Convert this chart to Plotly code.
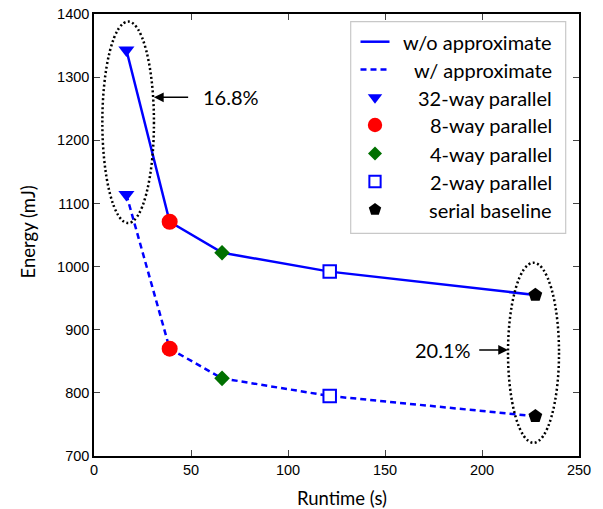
import plotly.graph_objects as go

# ---- data ----
configs = ["32-way parallel", "8-way parallel", "4-way parallel", "2-way parallel", "serial baseline"]
runtime = [16.7, 39.0, 66.0, 121.5, 227.5]
energy_wo = [1343, 1071, 1022, 992, 955]
energy_w = [1114, 870, 823, 795, 763]
series_names = ["w/o approximate", "w/ approximate"]

marker_symbols = ["triangle-down", "circle", "diamond", "square", "pentagon"]
marker_fill = ["#0000ff", "#ff0000", "#007000", "#ffffff", "#000000"]
marker_edge = ["#0000ff", "#ff0000", "#007000", "#0000ff", "#000000"]
marker_edge_w = [0, 0, 0, 2, 0]
marker_sizes = [14, 16, 12, 12.5, 14.5]

x_ticks = [0, 50, 100, 150, 200, 250]
y_ticks = [700, 800, 900, 1000, 1100, 1200, 1300, 1400]

# annotation values (ellipse extents, arrows)
ell_left = dict(x0=4.3, x1=30.9, y0=1069, y1=1388)
ell_right = dict(x0=213.4, x1=239.7, y0=721, y1=1006)
arrow_left = dict(tip=(30.9, 1268), tail=(49.3, 1268), text="16.8%", tx=55.4)
arrow_right = dict(tip=(213.4, 868), tail=(197.8, 868), text="20.1%", tx=195.4)

W, H = 603, 509
L, R, T, B = 94, 579, 14, 456

TEXT_FONT = "Lato"
TICK_FONT = "Liberation Sans"
BLUE = "#0000ff"

fig = go.Figure()

fig.add_trace(go.Scatter(x=runtime, y=energy_wo, mode="lines",
                         line=dict(color=BLUE, width=2.5), showlegend=False))
fig.add_trace(go.Scatter(x=runtime, y=energy_w, mode="lines",
                         line=dict(color=BLUE, width=2.5, dash="6px,4px"), showlegend=False))

for i, name in enumerate(configs):
    fig.add_trace(go.Scatter(
        x=[runtime[i], runtime[i]], y=[energy_wo[i], energy_w[i]], mode="markers",
        marker=dict(symbol=marker_symbols[i], size=marker_sizes[i], color=marker_fill[i],
                    line=dict(color=marker_edge[i], width=marker_edge_w[i])),
        showlegend=False, name=name))

# ---- custom legend on an overlay pixel-space axis ----
leg_rows = [41.7, 69.5, 97.5, 125, 153.5, 181.5, 209.5]
leg_sym_x = 375
leg_text_x = 554
fig.add_trace(go.Scatter(x=[360.5, 389.5], y=[leg_rows[0]] * 2, mode="lines", xaxis="x2", yaxis="y2",
                         line=dict(color=BLUE, width=2.5), showlegend=False))
fig.add_trace(go.Scatter(x=[360.5, 389.5], y=[leg_rows[1]] * 2, mode="lines", xaxis="x2", yaxis="y2",
                         line=dict(color=BLUE, width=2.5, dash="6px,4px"), showlegend=False))
for i, name in enumerate(configs):
    fig.add_trace(go.Scatter(
        x=[leg_sym_x], y=[leg_rows[i + 2]], mode="markers", xaxis="x2", yaxis="y2",
        marker=dict(symbol=marker_symbols[i], size=marker_sizes[i] * 0.9, color=marker_fill[i],
                    line=dict(color=marker_edge[i], width=marker_edge_w[i])),
        showlegend=False))

annotations = []
for label, yy in zip(series_names + configs, leg_rows):
    annotations.append(dict(x=leg_text_x, y=yy, xref="x2", yref="y2", text=label, showarrow=False,
                            xanchor="right", yanchor="middle",
                            font=dict(family=TEXT_FONT, size=20, color="black")))

for a, anchor in [(arrow_left, "left"), (arrow_right, "right")]:
    annotations.append(dict(x=a["tip"][0], y=a["tip"][1], ax=a["tail"][0], ay=a["tail"][1],
                            xref="x", yref="y", axref="x", ayref="y", text="", showarrow=True,
                            arrowhead=2, arrowsize=1.3, arrowwidth=1.5, arrowcolor="black"))
    annotations.append(dict(x=a["tx"], y=a["tip"][1], xref="x", yref="y", text=a["text"],
                            showarrow=False, xanchor=anchor, yanchor="middle",
                            font=dict(family=TEXT_FONT, size=20, color="black")))

annotations.append(dict(x=(342 - L) / (R - L), y=(B - 498) / (B - T), xref="paper", yref="paper",
                        text="Runtime (s)", showarrow=False, xanchor="center", yanchor="middle",
                        font=dict(family=TEXT_FONT, size=18.5, color="black")))
annotations.append(dict(x=(27 - L) / (R - L), y=(B - 232.5) / (B - T), xref="paper", yref="paper",
                        text="Energy (mJ)", textangle=-90, showarrow=False,
                        xanchor="center", yanchor="middle",
                        font=dict(family=TEXT_FONT, size=18.5, color="black")))

shapes = [
    dict(type="circle", xref="x", yref="y", line=dict(color="black", width=2.5, dash="2px,2.5px"), **ell_left),
    dict(type="circle", xref="x", yref="y", line=dict(color="black", width=2.5, dash="2px,2.5px"), **ell_right),
    dict(type="rect", xref="x2", yref="y2", x0=350.7, x1=565.7, y0=21.7, y1=233.3,
         line=dict(color="#c8c8c8", width=1.2), fillcolor="white", layer="below"),
]

fig.update_layout(
    width=W, height=H,
    margin=dict(l=L, r=W - R, t=T, b=H - B, pad=0),
    paper_bgcolor="white", plot_bgcolor="white",
    showlegend=False,
    xaxis=dict(range=[0, 250], tickvals=x_ticks, ticks="inside", ticklen=6, tickwidth=1.2,
               showline=True, linecolor="black", linewidth=1.5, mirror="ticks",
               showgrid=False, zeroline=False, automargin=False,
               tickfont=dict(family=TICK_FONT, size=14.5, color="black")),
    yaxis=dict(range=[700, 1400], tickvals=y_ticks, ticks="inside", ticklen=6, tickwidth=1.2,
               showline=True, linecolor="black", linewidth=1.5, mirror="ticks",
               showgrid=False, zeroline=False, automargin=False,
               tickfont=dict(family=TICK_FONT, size=14.5, color="black")),
    xaxis2=dict(range=[L, R], overlaying="x", visible=False, anchor="y2", automargin=False),
    yaxis2=dict(range=[B, T], overlaying="y", visible=False, anchor="x2", automargin=False),
    annotations=annotations,
    shapes=shapes,
)

fig.write_html("out.html", config={"displayModeBar": False},
               post_script="document.body.style.margin='0';document.body.style.padding='0';")
